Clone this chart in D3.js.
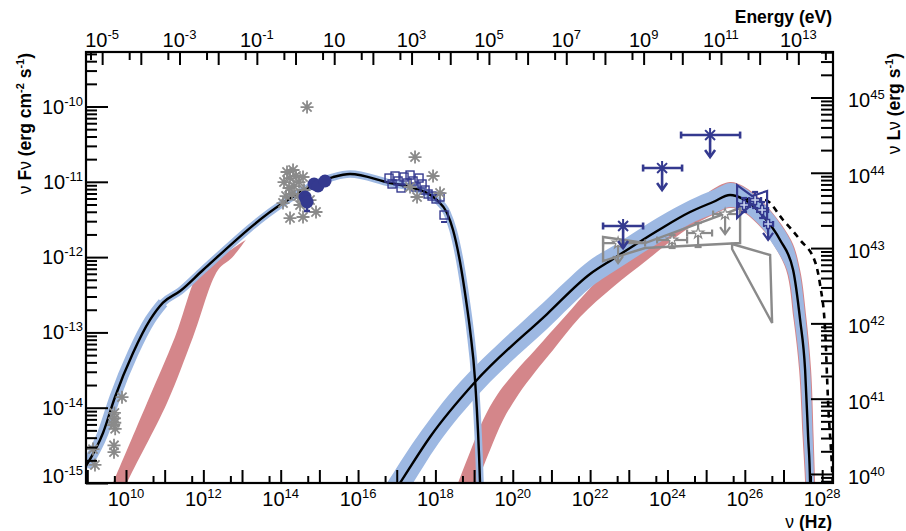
<!DOCTYPE html>
<html>
<head>
<meta charset="utf-8">
<script src="https://cdn.jsdelivr.net/npm/d3@7"></script>
<style>
  body { margin: 0; background: #fff; }
  svg { display: block; font-family: "Liberation Sans", Arial, Helvetica, sans-serif; }
</style>
</head>
<body>
<svg id="sed" width="906" height="531"></svg>
<script>
// all values are log10(nu / Hz), log10(nuFnu / erg cm-2 s-1)

// model curves
const synchModel = [
  [8.96, -14.78], [9.405, -14.336], [9.716, -13.858], [10.181, -13.274], [10.621, -12.835],
  [10.957, -12.605], [11.40, -12.45], [11.991, -12.171], [14.060, -11.282], [15.353, -10.937],
  [15.793, -10.897], [16.827, -11.016], [17.344, -11.069], [18.042, -11.242], [18.301, -11.414],
  [18.456, -11.640], [18.637, -12.065], [18.792, -12.570], [18.896, -12.968], [19.025, -13.632],
  [19.154, -15.0], [19.167, -15.226]
];
const icModel = [
  [16.801, -15.226], [17.086, -15.0], [17.861, -14.389], [19.025, -13.659], [20.887, -12.756],
  [21.999, -12.224], [22.594, -12.025], [23.732, -11.653], [24.585, -11.401], [25.180, -11.268],
  [25.619, -11.175], [25.956, -11.228], [26.473, -11.454], [26.912, -11.773], [27.249, -12.171],
  [27.430, -12.835], [27.559, -13.499], [27.637, -14.389], [27.688, -15.0], [27.695, -15.226]
];
const icBandUpper = [
  [16.465, -15.226], [16.749, -15.0], [17.525, -14.389], [18.637, -13.659], [20.887, -12.556],
  [21.999, -12.039], [22.594, -11.853], [23.732, -11.481], [24.585, -11.242], [25.180, -11.109],
  [25.619, -11.016], [25.956, -11.069], [26.473, -11.282], [27.171, -11.773], [27.404, -12.171],
  [27.572, -12.835], [27.688, -13.499], [27.753, -14.389], [27.792, -15.0], [27.80, -15.226]
];
const icBandLower = [
  [17.137, -15.226], [17.422, -15.0], [18.198, -14.389], [19.413, -13.659], [20.887, -12.955],
  [21.999, -12.410], [22.594, -12.198], [23.732, -11.826], [24.585, -11.560], [25.180, -11.428],
  [25.619, -11.335], [25.956, -11.388], [26.473, -11.627], [26.654, -11.773], [27.093, -12.171],
  [27.287, -12.835], [27.430, -13.499], [27.520, -14.389], [27.585, -15.0], [27.59, -15.226]
];
const redSynchUpper = [
  [9.483, -15.226], [9.664, -15.0], [10.543, -13.938], [11.267, -13.061], [11.914, -12.171],
  [12.25, -12.06], [13.1, -11.77]
];
const redSynchLower = [
  [9.86, -15.226], [10.026, -15.0], [11.06, -13.938], [11.733, -13.061], [12.379, -12.171],
  [12.74, -12.01], [13.1, -11.77]
];
const redIcUpper = [
  [18.430, -15.226], [18.586, -15.0], [18.896, -14.588], [19.232, -14.163], [19.594, -13.831],
  [20.060, -13.526], [20.577, -13.234], [21.223, -12.862], [22.594, -12.105], [23.732, -11.693],
  [24.585, -11.348], [25.180, -11.096], [25.619, -11.003], [25.956, -11.056], [26.473, -11.268],
  [27.197, -11.773], [27.430, -12.171], [27.598, -12.835], [27.714, -13.499], [27.779, -14.389],
  [27.818, -15.0], [27.83, -15.226]
];
const redIcLower = [
  [18.922, -15.226], [19.077, -15.0], [19.413, -14.562], [19.749, -14.163], [20.137, -13.831],
  [20.577, -13.526], [21.042, -13.234], [21.740, -12.796], [22.594, -12.397], [23.473, -12.039],
  [24.326, -11.693], [24.766, -11.547], [25.180, -11.441], [25.619, -11.348], [25.956, -11.401],
  [26.473, -11.640], [26.680, -11.786], [27.068, -12.171], [27.262, -12.835], [27.404, -13.499],
  [27.494, -14.389], [27.559, -15.0], [27.565, -15.226]
];
const unabsorbedModel = [
  [25.956, -11.228], [26.525, -11.242], [26.990, -11.507], [27.430, -11.773], [27.818, -12.065],
  [27.947, -12.371], [28.076, -12.968], [28.154, -13.938], [28.257, -14.827], [28.28, -15.093]
];

// spectra (butterflies)
const latBowUpper = [[22.335, -11.733], [23.421, -11.813], [25.878, -11.348]];
const latBowLower = [[22.335, -12.052], [23.421, -11.879], [25.878, -11.813]];
const oldVheBow = [[25.671, -11.826], [26.654, -11.972], [26.706, -12.875], [25.671, -11.892]];
const vheBowUpper = [[25.800, -11.043], [26.188, -11.189], [26.576, -11.122]];
const vheBowLower = [[25.800, -11.481], [26.188, -11.295], [26.576, -11.507]];

// data points
const archivalRadio = [
  [9.147, -14.55], [9.198, -14.76], [9.69, -14.59], [9.69, -14.50], [9.70, -14.07],
  [9.70, -14.14], [9.71, -14.20], [9.72, -14.28], [9.68, -14.23], [9.897, -13.86]
];
const archivalOptical = [
  [14.086, -11.003], [14.163, -10.870], [14.241, -10.950], [14.319, -10.843], [14.396, -10.923],
  [14.215, -11.082], [14.344, -11.056], [14.474, -11.003], [14.577, -10.936], [14.138, -11.189],
  [14.293, -11.162], [14.448, -11.189], [14.603, -11.109], [14.060, -11.282], [14.500, -11.308],
  [14.758, -11.242], [14.241, -11.481], [14.577, -11.467], [14.913, -11.401], [14.681, -10.007]
];
const archivalXray = [[17.473, -10.671], [17.939, -10.923], [18.120, -11.149], [17.344, -11.069], [17.525, -11.202]];
// [nu, f, fLo, fHi]
const opticalPoints = [
  [14.629, -11.202, -11.24, -11.17], [14.681, -11.268, -11.388, -11.24], [14.862, -11.029, -11.06, -11.0],
  [14.965, -11.056, -11.09, -11.03], [15.146, -10.989, -11.02, -10.96]
];
const xrayPoints = [
  [16.801, -10.950], [16.879, -11.029], [16.956, -10.923], [17.034, -10.989], [17.112, -11.082],
  [17.189, -10.936], [17.267, -11.016], [17.344, -10.910], [17.422, -10.989], [17.499, -11.069],
  [17.577, -10.950], [17.655, -11.029], [17.732, -11.109], [17.810, -11.162], [17.913, -11.189],
  [18.017, -11.228], [18.120, -11.202], [18.223, -11.441]
];
// [nu, f, nuLo, nuHi, fLo, fHi]  (fLo null -> upper limit)
const latPoints = [
  [22.723, -11.813, 22.335, 23.421, null, null],
  [24.120, -11.773, 23.732, 24.508, -11.879, -11.707],
  [24.792, -11.680, 24.508, 25.154, -11.866, -11.547],
  [25.490, -11.428, 25.180, 25.801, null, null]
];
// [nu, f, nuLo, nuHi]
const gammaUpperLimits = [
  [22.853, -11.587, 22.335, 23.370],
  [23.861, -10.817, 23.370, 24.378],
  [25.102, -10.379, 24.352, 25.878]
];
const vhePoints = [
  [25.981, -11.308, 25.826, 26.137, -11.401, -11.215],
  [26.266, -11.242, 26.110, 26.421, -11.348, -11.135],
  [26.447, -11.375, 26.318, 26.602, -11.481, -11.268],
  [26.602, -11.560, 26.499, 26.731, null, null]
];

// axes
const bottomLabelExp = [10, 12, 14, 16, 18, 20, 22, 24, 26, 28];
const topLabelExp = [-5, -3, -1, 1, 3, 5, 7, 9, 11, 13];
const leftLabelExp = [-15, -14, -13, -12, -11, -10];
const rightLabelExp = [40, 41, 42, 43, 44, 45];

const EV_PER_HZ = 4.1357e-15;
const LOG_4PI_D2 = 54.88;

const BLUE = "#34398f", GREY = "#8a8a8a", BAND_BLUE = "#9db8e2", BAND_RED = "#d4868a";

const svg = d3.select("#sed");
const frame = { left: 86, right: 833, top: 52, bottom: 483 };

const x = d3.scaleLog().domain([10 ** 8.966, 10 ** 28.28]).range([frame.left, frame.right]);
const y = d3.scaleLog().domain([1e-15, 10 ** -9.276]).range([frame.bottom, frame.top]);
const xTop = d3.scaleLog().domain(x.domain().map(v => v * EV_PER_HZ)).range(x.range());
const yRight = d3.scaleLog().domain(y.domain().map(v => v * 10 ** LOG_4PI_D2)).range(y.range());

const X = v => x(10 ** v);
const Y = v => y(10 ** v);

const smoothLine = d3.line().x(d => X(d[0])).y(d => Y(d[1])).curve(d3.curveMonotoneX);
const edgeLine = d3.line().x(d => X(d[0])).y(d => Y(d[1])).curve(d3.curveCatmullRom.alpha(0.5));
const polyLine = d3.line().x(d => X(d[0])).y(d => Y(d[1]));

function bandPath(upper, lower) {
  const a = edgeLine(upper);
  const b = edgeLine(lower.slice().reverse());
  return a + "L" + b.slice(1) + "Z";
}

svg.append("defs").append("clipPath").attr("id", "plotclip")
  .append("rect")
  .attr("x", frame.left).attr("y", frame.top)
  .attr("width", frame.right - frame.left).attr("height", frame.bottom - frame.top);

const plot = svg.append("g").attr("clip-path", "url(#plotclip)");

// bands: red below, blue above
plot.append("path").attr("d", bandPath(redSynchUpper, redSynchLower)).attr("fill", BAND_RED);
plot.append("path").attr("d", bandPath(redIcUpper, redIcLower)).attr("fill", BAND_RED);

plot.append("path").attr("d", smoothLine(synchModel))
  .attr("fill", "none").attr("stroke", BAND_BLUE).attr("stroke-width", 7.5).attr("stroke-linejoin", "round");
plot.append("path").attr("d", smoothLine(synchModel.filter(d => d[0] < 11)))
  .attr("fill", "none").attr("stroke", BAND_BLUE).attr("stroke-width", 11);
plot.append("path").attr("d", bandPath(icBandUpper, icBandLower)).attr("fill", BAND_BLUE);

// model lines
plot.append("path").attr("d", smoothLine(unabsorbedModel))
  .attr("fill", "none").attr("stroke", "#000").attr("stroke-width", 2.6).attr("stroke-dasharray", "6,5");
[synchModel, icModel].forEach(m => {
  plot.append("path").attr("d", smoothLine(m))
    .attr("fill", "none").attr("stroke", "#000").attr("stroke-width", 2.4);
});

// grey spectra
const marks = svg.append("g");
marks.append("path")
  .attr("d", polyLine(latBowUpper.concat(latBowLower.slice().reverse())) + "Z")
  .attr("fill", "none").attr("stroke", GREY).attr("stroke-width", 2.4);
marks.append("path").attr("d", polyLine(oldVheBow) + "Z")
  .attr("fill", "none").attr("stroke", GREY).attr("stroke-width", 2.4);

function errorBars(g, pts, color, width, cap) {
  pts.forEach(p => {
    const cx = X(p[0]), cy = Y(p[1]);
    const x0 = X(p[2]), x1 = X(p[3]);
    g.append("line").attr("x1", x0).attr("x2", x1).attr("y1", cy).attr("y2", cy)
      .attr("stroke", color).attr("stroke-width", width);
    [x0, x1].forEach(xx => g.append("line").attr("x1", xx).attr("x2", xx)
      .attr("y1", cy - cap).attr("y2", cy + cap).attr("stroke", color).attr("stroke-width", width));
    if (p[4] != null) {
      const y0 = Y(p[4]), y1 = Y(p[5]);
      g.append("line").attr("x1", cx).attr("x2", cx).attr("y1", y0).attr("y2", y1)
        .attr("stroke", color).attr("stroke-width", width);
      [y0, y1].forEach(yy => g.append("line").attr("x1", cx - cap).attr("x2", cx + cap)
        .attr("y1", yy).attr("y2", yy).attr("stroke", color).attr("stroke-width", width));
    }
  });
}

function arrowDown(g, cx, cy, len, color, width) {
  const yb = cy + len;
  g.append("line").attr("x1", cx).attr("x2", cx).attr("y1", cy).attr("y2", yb)
    .attr("stroke", color).attr("stroke-width", width);
  g.append("path").attr("d", `M${cx - 5},${yb - 7}L${cx},${yb}L${cx + 5},${yb - 7}`)
    .attr("fill", "none").attr("stroke", color).attr("stroke-width", width);
}

function asterisk(g, cx, cy, r, color, width) {
  const d = r * Math.SQRT1_2;
  g.append("path")
    .attr("d", `M${cx - r},${cy}H${cx + r}M${cx},${cy - r}V${cy + r}` +
      `M${cx - d},${cy - d}L${cx + d},${cy + d}M${cx - d},${cy + d}L${cx + d},${cy - d}`)
    .attr("stroke", color).attr("stroke-width", width).attr("fill", "none");
}

// grey LAT points
errorBars(marks, latPoints, GREY, 2.2, 3.5);
latPoints.forEach(p => {
  if (p[4] == null) arrowDown(marks, X(p[0]), Y(p[1]), 20, GREY, 2.2);
  marks.append("path").attr("transform", `translate(${X(p[0])},${Y(p[1])})`)
    .attr("d", d3.symbol(d3.symbolStar, 40)())
    .attr("fill", "#fff").attr("stroke", GREY).attr("stroke-width", 1.2);
});

// X-ray squares
xrayPoints.forEach(p => {
  marks.append("rect").attr("x", X(p[0]) - 4).attr("y", Y(p[1]) - 4)
    .attr("width", 8).attr("height", 8)
    .attr("fill", "none").attr("stroke", BLUE).attr("stroke-width", 1.4);
});
{
  const last = xrayPoints[xrayPoints.length - 1];
  marks.append("line").attr("x1", X(last[0]) - 3).attr("x2", X(last[0]) + 3)
    .attr("y1", Y(last[1]) + 7).attr("y2", Y(last[1]) + 7).attr("stroke", BLUE).attr("stroke-width", 2);
}

// archival asterisks
archivalRadio.concat(archivalOptical, archivalXray).forEach(p => asterisk(marks, X(p[0]), Y(p[1]), 6.5, GREY, 1.8));

// optical circles
opticalPoints.forEach(p => {
  marks.append("line").attr("x1", X(p[0])).attr("x2", X(p[0]))
    .attr("y1", Y(p[2])).attr("y2", Y(p[3])).attr("stroke", BLUE).attr("stroke-width", 2.5);
  marks.append("line").attr("x1", X(p[0]) - 3).attr("x2", X(p[0]) + 3)
    .attr("y1", Y(p[2])).attr("y2", Y(p[2])).attr("stroke", BLUE).attr("stroke-width", 2.5);
});
opticalPoints.forEach(p => {
  marks.append("circle").attr("cx", X(p[0])).attr("cy", Y(p[1])).attr("r", 6.5).attr("fill", BLUE);
});

// VHE spectrum
marks.append("path")
  .attr("d", polyLine(vheBowUpper.concat(vheBowLower.slice().reverse())) + "Z")
  .attr("fill", "none").attr("stroke", BLUE).attr("stroke-width", 2.2);
errorBars(marks, vhePoints, BLUE, 2.2, 3);
vhePoints.forEach(p => {
  if (p[4] == null) arrowDown(marks, X(p[0]), Y(p[1]), 16, BLUE, 2.2);
  marks.append("path").attr("transform", `translate(${X(p[0])},${Y(p[1])})`)
    .attr("d", d3.symbol(d3.symbolCross, 45)())
    .attr("fill", "#c9d4ee").attr("stroke", BLUE).attr("stroke-width", 1.4);
});

// gamma-ray upper limits
gammaUpperLimits.forEach(p => {
  const cx = X(p[0]), cy = Y(p[1]);
  errorBars(marks, [p], BLUE, 2.6, 3.5);
  arrowDown(marks, cx, cy, 22, BLUE, 2.6);
  asterisk(marks, cx, cy, 7, BLUE, 2);
});

// frame and axes
const axes = svg.append("g").attr("stroke-width", 2);

function decadeTicks(scale, mults) {
  const [lo, hi] = scale.domain().map(Math.log10);
  const out = [];
  for (let e = Math.floor(lo); e <= Math.ceil(hi); e++) {
    mults.forEach(m => {
      const lv = Math.log10(m) + e;
      if (lv >= lo - 1e-9 && lv <= hi + 1e-9) out.push(10 ** lv);
    });
  }
  return out;
}

function tickAxis(axisFn, scale, transform, values, len) {
  const g = axes.append("g").attr("transform", transform)
    .call(axisFn(scale).tickValues(values).tickSize(-len).tickSizeOuter(0).tickFormat(""));
  g.select(".domain").remove();
  g.selectAll("line").attr("stroke", "#000").attr("stroke-width", 2);
}

const minorMults = [2, 3, 4, 5, 6, 7, 8, 9];
tickAxis(d3.axisBottom, x, `translate(0,${frame.bottom})`, decadeTicks(x, [1]), 13);
tickAxis(d3.axisBottom, x, `translate(0,${frame.bottom})`, decadeTicks(x, [5]), 7);
tickAxis(d3.axisTop, xTop, `translate(0,${frame.top})`, decadeTicks(xTop, [1]), 13);
tickAxis(d3.axisTop, xTop, `translate(0,${frame.top})`, decadeTicks(xTop, [5]), 8);
tickAxis(d3.axisLeft, y, `translate(${frame.left},0)`, decadeTicks(y, [1]), 22);
tickAxis(d3.axisLeft, y, `translate(${frame.left},0)`, decadeTicks(y, minorMults), 11);
tickAxis(d3.axisRight, yRight, `translate(${frame.right},0)`, decadeTicks(yRight, [1]), 22);
tickAxis(d3.axisRight, yRight, `translate(${frame.right},0)`, decadeTicks(yRight, minorMults), 12);

axes.append("rect")
  .attr("x", frame.left).attr("y", frame.top)
  .attr("width", frame.right - frame.left).attr("height", frame.bottom - frame.top)
  .attr("fill", "none").attr("stroke", "#000").attr("stroke-width", 2.2);

const labels = svg.append("g").attr("fill", "#000");

function powLabel(px, py, e, anchor) {
  const t = labels.append("text").attr("x", px).attr("y", py)
    .attr("text-anchor", anchor).attr("font-size", 20);
  t.append("tspan").text("10");
  if (e !== 1) t.append("tspan").attr("dy", -8).attr("font-size", 13).text(e);
}

bottomLabelExp.forEach(e => powLabel(x(10 ** e), 506, e, "middle"));
topLabelExp.forEach(e => powLabel(xTop(10 ** e), 47, e, "middle"));
leftLabelExp.forEach(e => powLabel(83, y(10 ** e) + (e === -15 ? 0 : 7), e, "end"));
rightLabelExp.forEach(e => powLabel(848, yRight(10 ** e) + 10, e, "start"));

// axis titles
const titleSize = 17.5;
labels.append("text").attr("x", frame.right - 1).attr("y", 23)
  .attr("text-anchor", "end").attr("font-size", titleSize).attr("font-weight", "bold")
  .text("Energy (eV)");

{
  const t = labels.append("text").attr("x", frame.right - 1).attr("y", 528)
    .attr("text-anchor", "end").attr("font-size", titleSize).attr("font-weight", "bold");
  t.append("tspan").attr("font-weight", "normal").text("ν");
  t.append("tspan").text(" (Hz)");
}

{
  const t = labels.append("text")
    .attr("transform", `translate(31,${frame.top + 1}) rotate(-90)`)
    .attr("text-anchor", "end").attr("font-size", titleSize).attr("font-weight", "bold");
  t.append("tspan").attr("font-weight", "normal").text("ν");
  t.append("tspan").text(" F");
  t.append("tspan").attr("font-weight", "normal").text("ν");
  t.append("tspan").text(" (erg cm");
  t.append("tspan").attr("dy", -7).attr("font-size", 11).text("-2");
  t.append("tspan").attr("dy", 7).text(" s");
  t.append("tspan").attr("dy", -7).attr("font-size", 11).text("-1");
  t.append("tspan").attr("dy", 7).text(")");
}

{
  const t = labels.append("text")
    .attr("transform", `translate(900,${frame.top + 1}) rotate(-90)`)
    .attr("text-anchor", "end").attr("font-size", titleSize).attr("font-weight", "bold");
  t.append("tspan").attr("font-weight", "normal").text("ν");
  t.append("tspan").text(" L");
  t.append("tspan").attr("font-weight", "normal").text("ν");
  t.append("tspan").text(" (erg s");
  t.append("tspan").attr("dy", -7).attr("font-size", 11).text("-1");
  t.append("tspan").attr("dy", 7).text(")");
}
</script>
</body>
</html>
